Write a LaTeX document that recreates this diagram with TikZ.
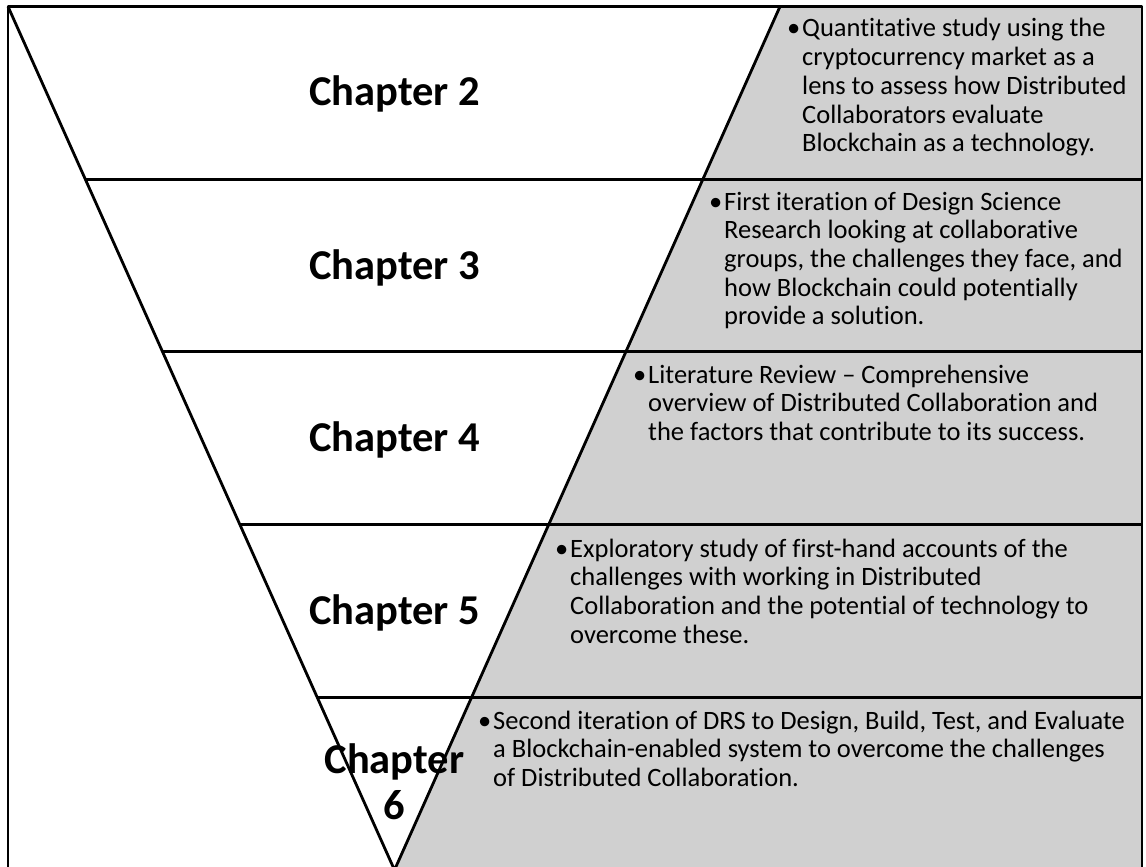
\documentclass[tikz,border=0pt]{standalone}
\usepackage{fontspec}
\setmainfont{Carlito}[Ligatures={NoCommon}]
\usetikzlibrary{calc}
\definecolor{panelgray}{RGB}{208,208,208}
\tikzset{
  edge/.style={line width=2.8pt, line join=round},
  chap/.style={font=\fontsize{42.5}{46}\selectfont\bfseries, anchor=base, inner sep=0pt},
  desc/.style={font=\fontsize{26.5}{28.7}\selectfont, anchor=base west, inner sep=0pt},
}
\newcommand{\bul}{\llap{•\hspace{2pt}}}
\begin{document}
\begin{tikzpicture}[x=1pt,y=-1pt]
\useasboundingbox (0,0) rectangle (1146,867);
\clip (0,0) rectangle (1146,867);
\coordinate (TL) at (8,6.5);
\coordinate (TR) at (780,6.5);
\coordinate (AP) at (394.5,870);
\coordinate (R) at (1142,0);
\coordinate (FB) at (1142,880);
% gray panel
\fill[panelgray] (TR) -- (AP) -- (AP -| R) -- (TR -| R) -- cycle;
% band separators
\foreach \t/\n in {0.2/1,0.4/2,0.6/3,0.8/4}{
  \coordinate (L\n) at ($(TL)!\t!(AP)$);
  \draw[edge] (L\n) -- (L\n -| R);
}
% triangle
\draw[edge] (TL) -- (AP) -- (TR);
% frame
\draw[edge] (TL) rectangle (FB);
% chapter labels
\node[chap] (c2) at (394.5,105) {Chapter 2};
\node[chap] (c3) at (394.5,279) {Chapter 3};
\node[chap] (c4) at (394.5,451) {Chapter 4};
\node[chap] (c5) at (394.5,624) {Chapter 5};
\node[chap] (c6) at (394.5,773) {\begin{tabular}[t]{@{}c@{}}Chapter\\6\end{tabular}};
% descriptions
\node[desc] (d2) at (802,37) {\begin{tabular}[t]{@{}l@{}}\bul Quantitative study using the\\cryptocurrency market as a\\lens to assess how Distributed\\Collaborators evaluate\\Blockchain as a technology.\end{tabular}};
\node[desc] (d3) at (724,210) {\begin{tabular}[t]{@{}l@{}}\bul First iteration of Design Science\\Research looking at collaborative\\groups, the challenges they face, and\\how Blockchain could potentially\\provide a solution.\end{tabular}};
\node[desc] (d4) at (648,383) {\begin{tabular}[t]{@{}l@{}}\bul Literature Review – Comprehensive\\overview of Distributed Collaboration and\\the factors that contribute to its success.\end{tabular}};
\node[desc] (d5) at (570,557) {\begin{tabular}[t]{@{}l@{}}\bul Exploratory study of first-hand accounts of the\\challenges with working in Distributed\\Collaboration and the potential of technology to\\overcome these.\end{tabular}};
\node[desc] (d6) at (493,729) {\begin{tabular}[t]{@{}l@{}}\bul Second iteration of DRS to Design, Build, Test, and Evaluate\\a Blockchain-enabled system to overcome the challenges\\of Distributed Collaboration.\end{tabular}};
\end{tikzpicture}
\end{document}
